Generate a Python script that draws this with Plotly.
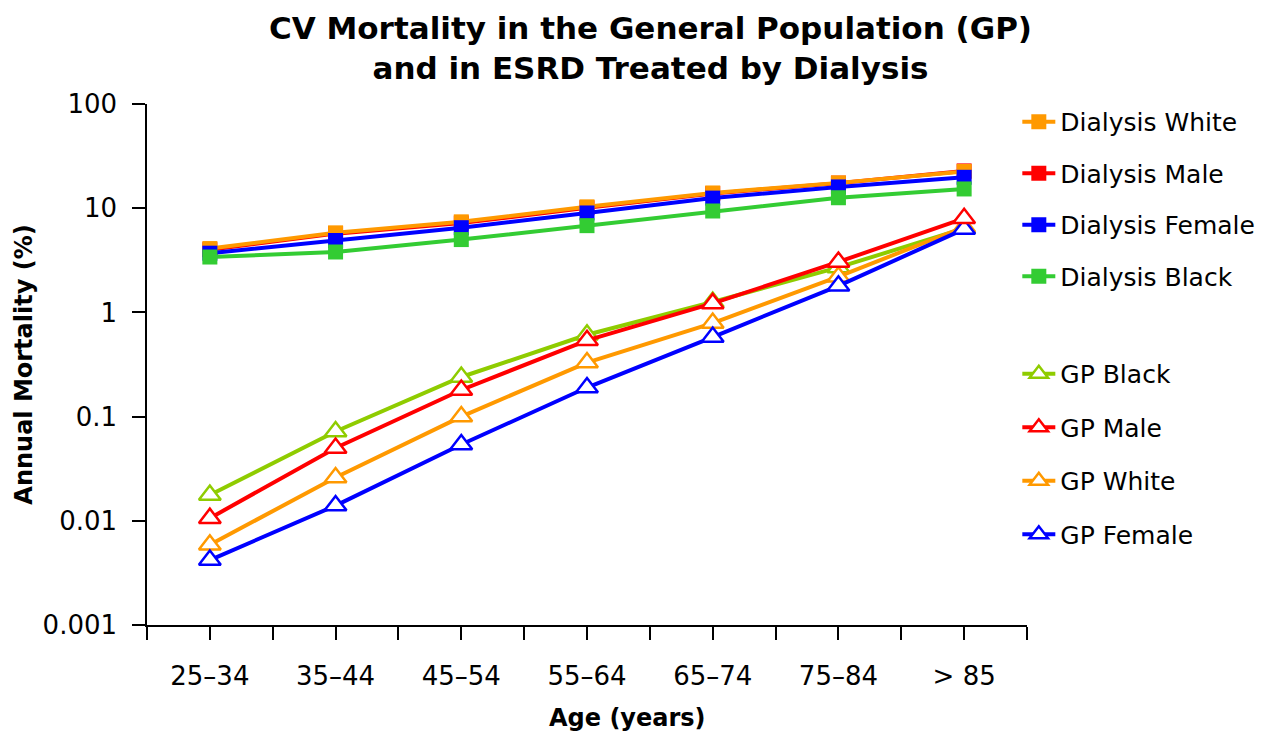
import plotly.graph_objects as go

age_groups = ["25–34", "35–44", "45–54", "55–64", "65–74", "75–84", "> 85"]

dialysis_white = [4.1, 5.8, 7.4, 10.3, 14.0, 17.5, 22.5]
dialysis_male = [4.0, 5.7, 7.2, 10.1, 13.8, 17.4, 22.8]
dialysis_female = [3.7, 4.9, 6.5, 9.0, 12.5, 16.0, 19.8]
dialysis_black = [3.4, 3.8, 5.0, 6.8, 9.4, 12.6, 15.3]

gp_black = [0.0177, 0.072, 0.24, 0.61, 1.26, 2.7, 6.4]
gp_male = [0.0106, 0.050, 0.18, 0.54, 1.22, 3.05, 8.0]
gp_white = [0.0059, 0.026, 0.10, 0.33, 0.79, 2.2, 6.6]
gp_female = [0.0042, 0.014, 0.054, 0.19, 0.58, 1.8, 6.3]

FONT = "DejaVu Sans, Arial, sans-serif"
xpos = list(range(len(age_groups)))

fig = go.Figure()

# (name, values, colour, legend rank) listed in drawing order
dialysis = [
    ("Dialysis Male", dialysis_male, "#FF0000", 2),
    ("Dialysis White", dialysis_white, "#FF9900", 1),
    ("Dialysis Female", dialysis_female, "#0000FF", 3),
    ("Dialysis Black", dialysis_black, "#33CC33", 4),
]
gp = [
    ("GP Black", gp_black, "#8FCC00", 5),
    ("GP White", gp_white, "#FF9900", 7),
    ("GP Female", gp_female, "#0000FF", 8),
    ("GP Male", gp_male, "#FF0000", 6),
]

for name, vals, col, rank in dialysis:
    fig.add_trace(go.Scatter(
        x=xpos, y=vals, name=name, mode="lines+markers",
        line=dict(color=col, width=4),
        marker=dict(symbol="square", size=15, color=col, line=dict(color=col, width=0)),
        legend="legend", legendgroup=name, legendrank=rank,
    ))

for name, vals, col, rank in gp:
    fig.add_trace(go.Scatter(
        x=xpos, y=vals, name=name, mode="lines+markers",
        line=dict(color=col, width=4),
        marker=dict(symbol="triangle-up", size=19, color="white", line=dict(color=col, width=2.5)),
        legend="legend2", legendgroup=name, legendrank=rank,
    ))

tickvals = [i * 0.5 - 0.5 for i in range(15)]
ticktext = [age_groups[int(v)] if abs(v - round(v)) < 1e-9 else "" for v in tickvals]

fig.update_layout(
    width=1266, height=727,
    paper_bgcolor="white", plot_bgcolor="white",
    margin=dict(l=139, r=247, t=96, b=110),
    font=dict(family=FONT, color="black", size=26),
    title=dict(
        text="<b>CV Mortality in the General Population (GP)<br>and in ESRD Treated by Dialysis</b>",
        x=0.5075, xanchor="center", y=0.958, yanchor="middle",
        font=dict(size=31, family=FONT, color="black"),
    ),
    xaxis=dict(
        range=[-0.5, 6.5], tickmode="array", tickvals=tickvals, ticktext=ticktext,
        automargin=False,
        showgrid=False, zeroline=False, showline=True, linecolor="black", linewidth=1.5,
        ticks="outside", ticklen=13, tickwidth=1.5, tickcolor="black",
        ticklabelstandoff=14,
        tickfont=dict(size=26, family=FONT, color="black"),
    ),
    yaxis=dict(
        type="log", range=[-3, 2], tickmode="array",
        tickvals=[0.001, 0.01, 0.1, 1, 10, 100],
        ticktext=["0.001", "0.01", "0.1", "1", "10", "100"],
        automargin=False,
        showgrid=False, zeroline=False, showline=True, linecolor="black", linewidth=1.5,
        ticks="outside", ticklen=13, tickwidth=1.5, tickcolor="black",
        ticklabelstandoff=10,
        tickfont=dict(size=26, family=FONT, color="black"),
        title=dict(text="<b>Annual Mortality (%)</b>", font=dict(size=24, family=FONT, color="black"), standoff=3),
    ),
    annotations=[dict(
        text="<b>Age (years)</b>", xref="paper", yref="paper",
        x=0.5455, y=-0.1785, xanchor="center", yanchor="middle", showarrow=False,
        font=dict(size=24, family=FONT, color="black"),
    )],
    legend=dict(
        x=0.989, y=1.0096, xref="paper", yref="paper",
        xanchor="left", yanchor="top", tracegroupgap=16, itemwidth=33,
        font=dict(size=25, family=FONT, color="black"), bgcolor="rgba(0,0,0,0)",
    ),
    legend2=dict(
        x=0.989, y=0.526, xref="paper", yref="paper",
        xanchor="left", yanchor="top", tracegroupgap=18, itemwidth=33,
        font=dict(size=25, family=FONT, color="black"), bgcolor="rgba(0,0,0,0)",
    ),
)

fig.write_html("out.html")
